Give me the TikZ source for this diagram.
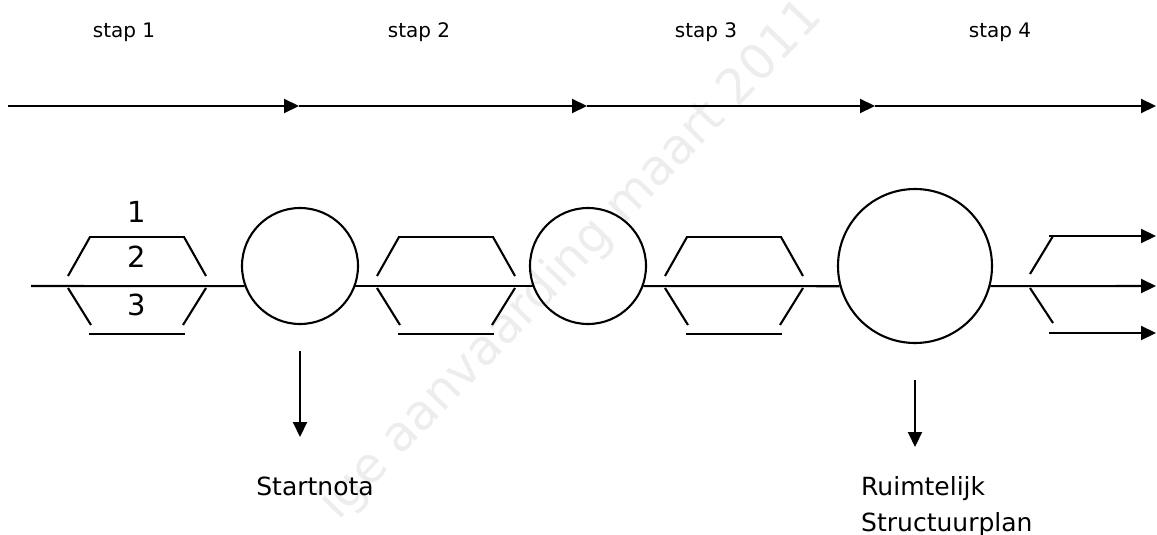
\documentclass[tikz,border=0pt]{standalone}
\usepackage{fontspec}
\setmainfont{DejaVu Sans}
\usetikzlibrary{arrows.meta}
\begin{document}
\begin{tikzpicture}[x=1pt,y=-1pt,
  ln/.style={line width=2.1pt},
  arr/.style={ln,-{Triangle[length=15pt,width=14pt]}},
  ring/.style={circle,draw,line width=2.1pt,inner sep=0pt},
  stap/.style={font=\fontsize{20}{24}\selectfont,anchor=base,inner sep=0pt},
  num/.style={font=\fontsize{29}{34}\selectfont,anchor=base,inner sep=0pt},
  lbl/.style={font=\fontsize{25}{36}\selectfont,inner sep=0pt},
  wm/.style={font=\fontsize{49}{56}\selectfont,text=gray!14,rotate=46,anchor=base west,inner sep=0pt},
  hexa/.pic={
    \draw[ln] (-48,237) -- (48,237);
    \draw[ln] (-47,237) -- (-69,276);
    \draw[ln] (47,237) -- (69,276);
    \draw[ln] (-69,288) -- (-46,325);
    \draw[ln] (69,288) -- (46,325);
    \draw[ln] (-48,334) -- (48,334);
  }]
\useasboundingbox (0,0) rectangle (1157,535);
% watermark
\begin{scope}
  \clip (0,0) rectangle (1157,535);
  \node[wm] (wmark) at (338,522) {ige aanvaarding maart 2011};
\end{scope}
% step labels
\node[stap] (s1) at (124,38) {stap 1};
\node[stap] (s2) at (419,38) {stap 2};
\node[stap] (s3) at (706,38) {stap 3};
\node[stap] (s4) at (1000,38) {stap 4};
% top timeline
\coordinate (t0) at (8,106);
\coordinate (t1) at (299,106);
\coordinate (t2) at (587,106);
\coordinate (t3) at (875,106);
\coordinate (t4) at (1156,106);
\draw[arr] (t0) -- (t1);
\draw[arr] (t1) -- (t2);
\draw[arr] (t2) -- (t3);
\draw[arr] (t3) -- (t4);
% hexagons
\pic at (137,0) {hexa};
\pic at (446,0) {hexa};
\pic at (734,0) {hexa};
\node[num] (n1) at (137,222) {1};
\node[num] (n2) at (137,267) {2};
\node[num] (n3) at (137,315) {3};
% circles
\node[ring,minimum size=116pt] (c1) at (300,266) {};
\node[ring,minimum size=116pt] (c2) at (588,266) {};
\node[ring,minimum size=154pt] (c3) at (915,266) {};
% main line
\coordinate (m0) at (31,286);
\coordinate (m1) at (1156,286);
\draw[ln] (m0) -- (c1.200);
\draw[ln] (c1.-20) -- (c2.200);
\draw[ln] (c2.-20) -- (c3.195);
\draw[arr] (c3.-15) -- (m1);
% fork
\coordinate (fa) at (1053,236);
\coordinate (fb) at (1030,274);
\coordinate (fc) at (1030,288);
\coordinate (fd) at (1053,323);
\coordinate (u0) at (1049,236);
\coordinate (u1) at (1156,236);
\coordinate (l0) at (1049,333);
\coordinate (l1) at (1156,333);
\draw[ln] (fa) -- (fb);
\draw[ln] (fc) -- (fd);
\draw[arr] (u0) -- (u1);
\draw[arr] (l0) -- (l1);
% down arrows and labels
\coordinate (d1a) at (300,351);
\coordinate (d1b) at (300,437);
\coordinate (d2a) at (915,380);
\coordinate (d2b) at (915,447);
\draw[arr] (d1a) -- (d1b);
\draw[arr] (d2a) -- (d2b);
\node[lbl,anchor=base] (start) at (315,495) {Startnota};
\node[lbl,align=left,anchor=base west] (rsp) at (861,531) {Ruimtelijk\\Structuurplan};
\end{tikzpicture}
\end{document}
